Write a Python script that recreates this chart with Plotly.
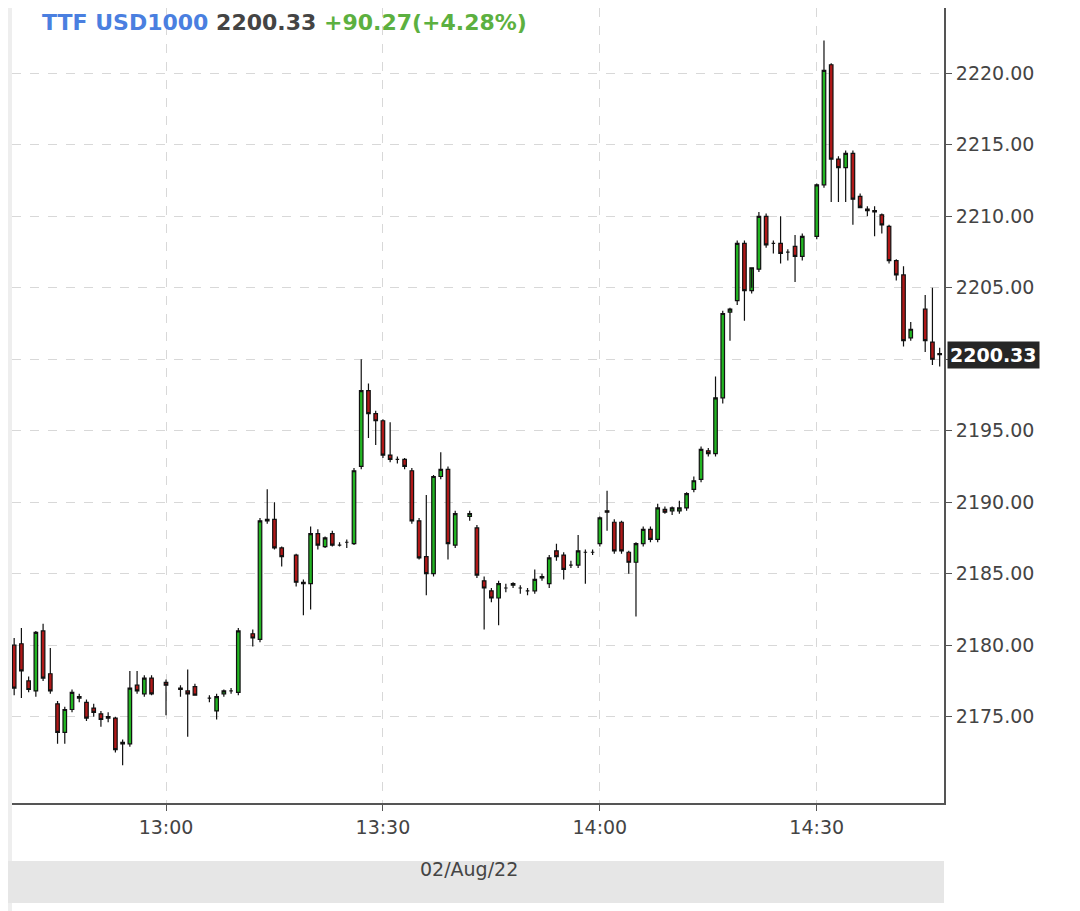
import plotly.graph_objects as go

times = ["12:39","12:40","12:41","12:42","12:43","12:44","12:45","12:46","12:47","12:48",
         "12:49","12:50","12:51","12:52","12:53","12:54","12:55","12:56","12:57","12:58",
         "13:00","13:02","13:03","13:04","13:06","13:07","13:08","13:09","13:10","13:12",
         "13:13","13:14","13:15","13:16","13:18","13:19","13:20","13:21","13:22","13:23",
         "13:24","13:25","13:26","13:27","13:28","13:29","13:30","13:31","13:32","13:33",
         "13:34","13:35","13:36","13:37","13:38","13:39","13:40","13:42","13:43","13:44",
         "13:45","13:46","13:47","13:48","13:49","13:50","13:51","13:52","13:53","13:54",
         "13:55","13:56","13:57","13:58","13:59","14:00","14:01","14:02","14:03","14:04",
         "14:05","14:06","14:07","14:08","14:09","14:10","14:11","14:12","14:13","14:14",
         "14:15","14:16","14:17","14:18","14:19","14:20","14:21","14:22","14:23","14:24",
         "14:25","14:26","14:27","14:28","14:30","14:31","14:32","14:33","14:34","14:35",
         "14:36","14:37","14:38","14:39","14:40","14:41","14:42","14:43","14:45","14:46","14:47"]
opens = [2180.0,2180.1,2177.5,2176.8,2181.0,2178.0,2175.9,2173.9,2175.5,2176.3,
         2176.0,2175.6,2175.2,2174.9,2174.9,2173.1,2173.1,2177.2,2176.6,2177.7,
         2177.4,2177.0,2176.8,2177.1,2176.3,2175.4,2176.6,2176.8,2176.7,2180.8,
         2180.4,2188.7,2188.8,2186.8,2186.3,2184.4,2184.3,2187.8,2186.9,2187.8,
         2187.0,2187.2,2187.1,2192.5,2197.8,2196.2,2195.7,2193.3,2193.0,2193.0,
         2192.2,2188.7,2186.2,2185.0,2191.8,2192.3,2187.0,2189.0,2188.2,2184.5,
         2183.8,2183.3,2184.0,2184.2,2184.0,2183.8,2183.8,2184.7,2184.3,2186.6,
         2186.3,2185.6,2185.6,2186.5,2186.5,2187.1,2189.4,2188.6,2188.6,2186.5,
         2185.8,2187.1,2188.1,2187.4,2189.5,2189.4,2189.4,2189.6,2190.9,2191.6,
         2193.6,2193.4,2197.3,2203.3,2204.1,2208.1,2204.8,2206.3,2210.0,2208.1,
         2208.1,2207.5,2207.9,2207.2,2208.6,2212.2,2220.6,2214.0,2213.4,2214.4,
         2211.4,2210.5,2210.4,2210.1,2209.3,2206.9,2205.9,2201.5,2203.5,2201.2,2200.4]
highs = [2180.5,2181.2,2177.8,2181.0,2181.5,2179.8,2176.1,2175.7,2176.9,2176.6,
         2176.2,2175.9,2175.4,2175.3,2175.0,2173.4,2178.2,2178.2,2177.9,2177.9,
         2177.6,2177.2,2178.3,2177.3,2176.5,2176.6,2176.9,2177.0,2181.2,2181.1,
         2188.9,2190.9,2190.0,2186.9,2186.4,2184.6,2188.3,2188.1,2187.6,2188.0,
         2187.2,2187.4,2192.4,2200.0,2198.3,2196.4,2195.8,2195.6,2193.2,2193.1,
         2192.4,2188.9,2190.5,2191.9,2193.5,2192.5,2189.4,2189.4,2188.4,2184.8,
         2184.0,2184.5,2184.3,2184.4,2184.2,2184.0,2185.3,2185.0,2186.3,2187.1,
         2186.5,2185.9,2187.7,2186.7,2186.7,2189.0,2190.8,2188.8,2188.7,2186.6,
         2187.2,2188.3,2188.3,2189.9,2189.7,2189.7,2190.1,2190.7,2191.8,2193.9,
         2193.8,2198.8,2203.4,2203.6,2208.3,2208.3,2205.0,2210.3,2210.2,2208.3,
         2210.0,2207.7,2208.7,2208.8,2212.3,2222.3,2220.7,2214.2,2214.6,2214.6,
         2211.6,2210.7,2210.7,2210.2,2209.4,2207.0,2206.5,2202.6,2204.5,2205.0,2200.8]
lows = [2176.5,2176.3,2176.7,2176.4,2177.5,2176.6,2173.1,2173.1,2175.3,2176.0,
        2174.7,2175.0,2174.3,2174.6,2172.5,2171.6,2172.9,2176.6,2176.4,2176.5,
        2175.1,2176.4,2173.6,2176.5,2176.0,2174.8,2176.4,2176.6,2176.5,2179.9,
        2180.2,2188.5,2186.7,2185.5,2184.1,2182.1,2182.5,2186.7,2186.8,2186.9,
        2186.9,2186.8,2187.0,2192.3,2194.5,2194.0,2193.1,2192.8,2192.7,2192.3,
        2188.5,2186.0,2183.5,2184.8,2191.6,2186.0,2186.8,2188.7,2184.7,2181.1,
        2183.0,2181.4,2183.7,2184.0,2183.6,2183.5,2183.6,2184.5,2184.0,2185.9,
        2184.6,2185.4,2185.4,2184.3,2186.3,2186.9,2188.0,2186.4,2186.4,2185.0,
        2182.0,2186.9,2187.2,2187.2,2189.2,2189.1,2189.2,2189.4,2190.7,2191.4,
        2193.2,2193.2,2196.9,2201.3,2203.8,2202.7,2204.6,2206.1,2207.8,2207.4,
        2206.7,2206.9,2205.4,2206.9,2208.4,2212.0,2211.0,2211.0,2211.0,2209.4,
        2210.8,2210.0,2208.6,2208.8,2206.7,2205.5,2200.9,2201.3,2200.5,2199.6,2199.5]
closes = [2177.0,2178.2,2176.9,2180.9,2177.7,2176.8,2173.9,2175.5,2176.7,2176.4,
          2174.9,2175.3,2174.8,2175.0,2172.7,2173.2,2177.0,2176.8,2177.7,2176.6,
          2177.2,2176.9,2176.6,2176.5,2176.3,2176.4,2176.8,2176.8,2181.0,2180.5,
          2188.7,2188.8,2186.8,2186.2,2184.4,2184.3,2187.8,2187.0,2187.5,2187.0,
          2187.0,2187.2,2192.2,2197.8,2196.2,2195.7,2193.3,2193.0,2193.0,2192.5,
          2188.7,2186.1,2185.0,2191.8,2192.3,2187.1,2189.2,2189.2,2184.9,2184.0,
          2183.3,2184.3,2184.0,2184.3,2184.0,2183.8,2184.6,2184.8,2186.1,2186.2,
          2185.3,2185.6,2186.6,2186.5,2186.5,2188.9,2189.3,2186.6,2186.6,2185.8,
          2187.1,2188.1,2187.4,2189.6,2189.3,2189.6,2189.6,2190.6,2191.5,2193.7,
          2193.4,2197.3,2203.2,2203.5,2208.1,2204.8,2206.4,2210.0,2208.0,2208.1,
          2207.4,2207.5,2207.2,2208.6,2212.2,2220.2,2214.0,2213.4,2214.4,2211.2,
          2210.6,2210.4,2210.3,2209.4,2206.9,2205.9,2201.3,2202.1,2201.3,2200.0,2200.33]

ytickvals = [2175, 2180, 2185, 2190, 2195, 2200, 2205, 2210, 2215, 2220]
xtickvals = ["13:00", "13:30", "14:00", "14:30"]
day = "2022-08-02"
last_price = 2200.33

xs = [f"{day} {t}:00" for t in times]

fig = go.Figure(go.Candlestick(
    x=xs, open=opens, high=highs, low=lows, close=closes,
    increasing=dict(fillcolor="#22b522", line=dict(color="#111111", width=1.2)),
    decreasing=dict(fillcolor="#b01818", line=dict(color="#111111", width=1.2)),
    whiskerwidth=0, showlegend=False, hoverinfo="skip",
))

yticktext = ["" if v == 2200 else f"{v:.2f}" for v in ytickvals]

fig.update_layout(
    width=1080, height=911,
    margin=dict(l=4, r=144, t=0, b=116),
    paper_bgcolor="white", plot_bgcolor="white",
    font=dict(family="DejaVu Sans", size=19, color="#333333"),
    xaxis=dict(
        rangeslider=dict(visible=False),
        range=[f"{day} 12:38:42", f"{day} 14:47:36"],
        tickvals=[f"{day} {t}:00" for t in xtickvals], ticktext=xtickvals,
        showgrid=True, gridcolor="#d8d8d8", griddash="dash", gridwidth=1,
        showline=True, linecolor="#555555", linewidth=2,
        ticks="outside", ticklen=6, tickcolor="#555555",
        tickfont=dict(size=19, color="#444444"),
    ),
    yaxis=dict(
        side="right", range=[2168.96, 2224.57],
        tickvals=ytickvals, ticktext=yticktext,
        showgrid=True, gridcolor="#d8d8d8", griddash="dash", gridwidth=1,
        showline=True, linecolor="#555555", linewidth=2,
        ticks="outside", ticklen=6, tickcolor="#555555",
        tickfont=dict(size=19, color="#444444"),
        zeroline=False,
    ),
)

W = 932
H = 795
fig.add_shape(type="rect", xref="paper", yref="paper", x0=-12/W, x1=0, y0=-116/H, y1=1,
              fillcolor="#eeeeee", line_width=0, layer="below")
fig.add_shape(type="rect", xref="paper", yref="paper", x0=-12/W, x1=1, y0=-100/H, y1=-58/H,
              fillcolor="#e6e6e6", line_width=0, layer="below")
fig.add_annotation(xref="paper", yref="paper", x=0.49, y=-79/H, text="02/Aug/22",
                   showarrow=False, font=dict(size=19, color="#444444"))

fig.add_annotation(xref="paper", yref="paper", x=0.03, y=1.0, xanchor="left", yanchor="top",
                   showarrow=False,
                   text="<b><span style='color:#4a7fe0'>TTF USD1000</span> "
                        "<span style='color:#444444'>2200.33</span> "
                        "<span style='color:#5cb040'>+90.27(+4.28%)</span></b>",
                   font=dict(size=22))

fig.add_annotation(xref="paper", yref="y", x=1.003, y=last_price, xanchor="left",
                   showarrow=False, text="<b>" + f"{last_price:.2f}" + "</b>",
                   font=dict(size=19, color="white"), bgcolor="#262626", borderpad=2)

fig.write_html("out.html")
